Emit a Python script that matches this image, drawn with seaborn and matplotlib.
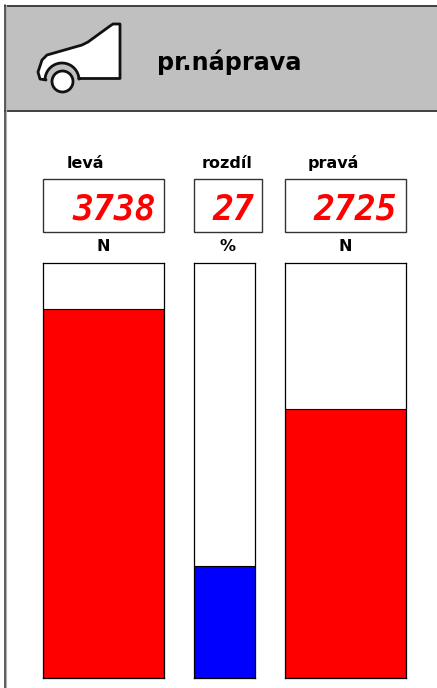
import numpy as np
import pandas as pd
import seaborn as sns
import matplotlib
matplotlib.use("Agg")
import matplotlib.pyplot as plt
from matplotlib.patches import Circle, Polygon, Rectangle

title = "pr.náprava"
labels = ["levá", "rozdíl", "pravá"]
units = ["N", "%", "N"]
values = [3738, 27, 2725]
limits = [4200, 100, 4200]
colors = ["#ff0000", "#0000ff", "#ff0000"]

W, H = 437, 688

sns.set_style("white")
plt.rcParams["font.family"] = ["DejaVu Sans"]
plt.rcParams["text.color"] = "black"

fig = plt.figure(figsize=(W / 100, H / 100), dpi=100)


def px_axes(x0, y0, x1, y1, zorder=1):
    # pixel box with y counted from the top of the picture
    return fig.add_axes([x0 / W, 1 - y1 / H, (x1 - x0) / W, (y1 - y0) / H], zorder=zorder)


# background layer in picture pixels
bg = fig.add_axes([0, 0, 1, 1], zorder=0)
bg.set_xlim(0, W)
bg.set_ylim(H, 0)
bg.axis("off")

bg.add_patch(Rectangle((5, 5), W, 105, fc="#c0c0c0", ec="none"))
bg.plot([5, W], [5.5, 5.5], color="#404040", lw=1.4)
bg.plot([5, W], [110.5, 110.5], color="#404040", lw=1.4)
bg.plot([4.8, 4.8], [5, H], color="#404040", lw=1.2)
bg.plot([6, 6], [5, H], color="#b0b0b0", lw=0.8)

# car icon: body with the wheel arch cut out, then the wheel
theta = np.radians(np.linspace(-3, -177, 30))
arch = np.column_stack([62 + 17 * np.cos(theta), 80 + 17 * np.sin(theta)])
body = [(46, 80), (40, 79), (38, 72), (42, 60), (47, 55), (82, 45), (88, 42), (110, 26),
        (113, 24), (120, 24), (120, 78.5), (79, 78.5)]
outline = np.vstack([body[1:], arch, [body[0]]])
bg.add_patch(Polygon(outline, closed=True, fc="white", ec="#111111", lw=2, joinstyle="round"))
bg.add_patch(Circle((62.5, 81.5), 10.5, fc="white", ec="#111111", lw=2))

bg.text(157, 70, title, fontsize=17.2, fontweight="bold", ha="left", va="baseline")

gauges = [(43, 164), (194, 255), (285, 406)]
boxes = [(43, 164), (194, 262), (285, 406)]
label_x = [85, 227, 333]
unit_x = [103, 228, 345]
value_x = [156, 254, 397]

for i in range(3):
    bg.text(label_x[i], 168, labels[i], fontsize=11.5, fontweight="bold", ha="center", va="baseline")
    bg.text(unit_x[i], 251, units[i], fontsize=11.5, fontweight="bold", ha="center", va="baseline")
    bx0, bx1 = boxes[i]
    bg.add_patch(Rectangle((bx0, 179), bx1 - bx0, 53, fc="white", ec="#333333", lw=1))
    bg.text(value_x[i], 220, str(values[i]), fontsize=25, color="#ff0000", ha="right", va="baseline",
            family="DejaVu Sans Mono", style="oblique", fontweight="bold")

    df = pd.DataFrame({"name": [labels[i]], "value": [values[i]]})
    x0, x1 = gauges[i]
    ax = px_axes(x0, 263, x1, 678, zorder=2)
    sns.barplot(data=df, x="name", y="value", color=colors[i], saturation=1, width=1,
                edgecolor="black", linewidth=0.8, ax=ax)
    ax.set_xlim(-0.5, 0.5)
    ax.set_ylim(0, limits[i])
    ax.set_xticks([])
    ax.set_yticks([])
    ax.set_xlabel("")
    ax.set_ylabel("")
    for s in ax.spines.values():
        s.set_color("black")
        s.set_linewidth(0.9)

fig.savefig("out.png", dpi=100)
